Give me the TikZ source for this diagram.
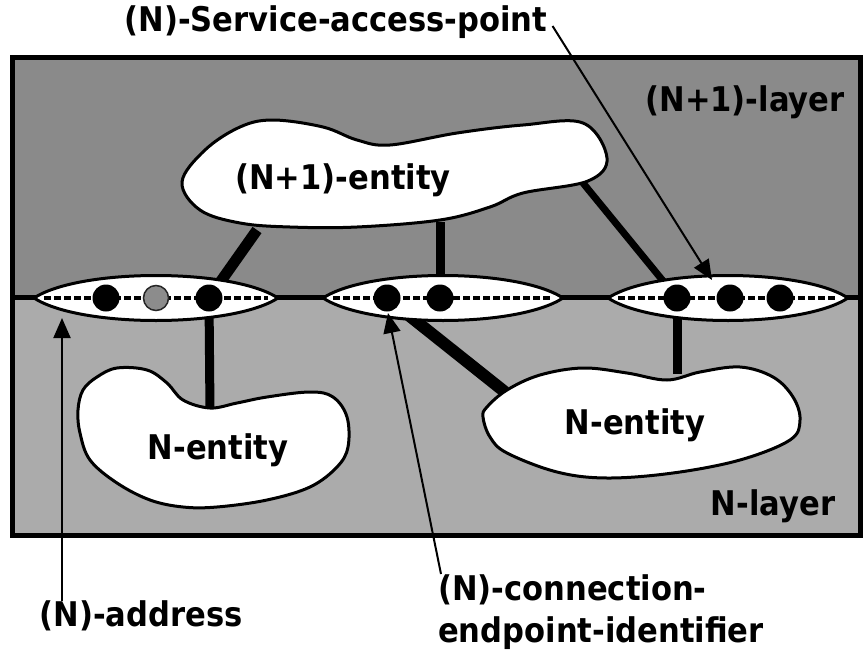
\documentclass[tikz,border=0pt]{standalone}
\usepackage{fontspec}
\newfontfamily\lblfont{DejaVu Sans Condensed}
\usetikzlibrary{arrows.meta}
\tikzset{
  lbl/.style={font=\lblfont\bfseries\fontsize{34}{42}\selectfont, inner sep=0pt, text=black},
  conn/.style={draw=black, line cap=butt},
  lensst/.style={fill=white, draw=black, line width=3pt},
  dashst/.style={draw=black, line width=3.3pt, dash pattern=on 7pt off 3pt},
  dotst/.style={circle, fill=black, minimum size=27pt, inner sep=0pt},
  graydot/.style={circle, fill=black!45, draw=black!85, line width=1.5pt, minimum size=25pt, inner sep=0pt},
  blobst/.style={fill=white, draw=black, line width=3pt},
  ptr/.style={draw=black, line width=2pt, -{Triangle[length=20pt,width=17pt]}}
}
\begin{document}
\begin{tikzpicture}[x=1pt,y=-1pt]
\useasboundingbox (0,0) rectangle (863,656);
% layers
\fill[black!46] (12,57) rectangle (860,297);
\fill[black!33] (12,297) rectangle (860,535);
\draw[line width=5pt] (12,57) rectangle (860,535);
\draw[line width=5pt] (12,297) -- (860,297);
% dots (nodes)
\node[dotst]   (l1) at (106,298) {};
\node[graydot] (l2) at (156,298) {};
\node[dotst]   (l3) at (209,298) {};
\node[dotst]   (m1) at (387,298) {};
\node[dotst]   (m2) at (440,298) {};
\node[dotst]   (r1) at (677,298) {};
\node[dotst]   (r2) at (730,298) {};
\node[dotst]   (r3) at (780,298) {};
% attachment points on the entities
\coordinate (ua) at (257,230);
\coordinate (ub) at (440,222);
\coordinate (uc) at (583,183);
\coordinate (la) at (210,412);
\coordinate (ra) at (505,392);
\coordinate (rb) at (677,374);
% connectors
\draw[conn, line width=11pt] (ua) -- (l3.center);
\draw[conn, line width=9pt] (ub) -- (m2.center);
\draw[conn, line width=7pt] (uc) -- (r1.center);
\draw[conn, line width=9pt] (l3.center) -- (la);
\draw[conn, line width=12pt] (m1.center) -- (ra);
\draw[conn, line width=9pt] (r1.center) -- (rb);
% lenses
\draw[lensst] (34,298) .. controls (80,268) and (232,268) .. (278,298) .. controls (232,328) and (80,328) .. cycle;
\draw[lensst] (323,298) .. controls (369,268) and (517,268) .. (563,298) .. controls (517,328) and (369,328) .. cycle;
\draw[lensst] (608,298) .. controls (654,268) and (802,268) .. (848,298) .. controls (802,328) and (654,328) .. cycle;
\draw[dashst] (44,298) -- (268,298);
\draw[dashst] (333,298) -- (553,298);
\draw[dashst] (618,298) -- (838,298);
% redraw dots on top
\node[dotst]   at (l1) {};
\node[graydot] at (l2) {};
\node[dotst]   at (l3) {};
\node[dotst]   at (m1) {};
\node[dotst]   at (m2) {};
\node[dotst]   at (r1) {};
\node[dotst]   at (r2) {};
\node[dotst]   at (r3) {};
% entities
\draw[blobst] plot[smooth cycle, tension=0.6] coordinates {
 (182,182) (205,150) (240,127) (273,120) (323,127) (357,140) (390,145) (457,133)
 (523,125) (583,123) (607,158) (588,181) (523,193) (490,207) (440,220) (357,227)
 (290,227) (240,223) (200,210)};
\draw[blobst] plot[smooth cycle, tension=0.6] coordinates {
 (83,390) (97,377) (117,368) (147,370) (167,383) (183,400) (210,408) (237,403)
 (267,397) (310,392) (333,397) (347,417) (348,447) (337,467) (310,487) (267,500)
 (217,507) (183,507) (150,500) (117,483) (90,460) (80,433) (78,410)};
\draw[blobst] plot[smooth cycle, tension=0.6] coordinates {
 (487,407) (507,390) (540,375) (583,368) (627,373) (667,380) (700,372) (740,367)
 (773,377) (793,397) (800,420) (790,440) (740,460) (673,473) (607,478) (557,472)
 (507,453) (490,437) (483,417)};
% labels
\node[lbl] (ue) at (343,180) {(N+1)-entity};
\node[lbl] (le) at (218,450) {N-entity};
\node[lbl] (re) at (635,425) {N-entity};
\node[lbl] (ul) at (745,102) {(N+1)-layer};
\node[lbl] (nl) at (773,506) {N-layer};
\node[lbl] (sap) at (336,22) {(N)-Service-access-point};
\node[lbl] (addr) at (141,616) {(N)-address};
\node[lbl, align=left, anchor=north west] (cep) at (438,574) {(N)-connection-\\endpoint-identifier};
% pointers
\coordinate (saptip) at (712,280);
\coordinate (addrtip) at (62,318);
\coordinate (ceptip) at (388,313);
\draw[ptr] ([xshift=5pt,yshift=-4pt]sap.east) -- (saptip);
\draw[ptr] (addr.north -| addrtip) -- (addrtip);
\draw[ptr] ([xshift=3pt]cep.north west) -- (ceptip);
\end{tikzpicture}
\end{document}
